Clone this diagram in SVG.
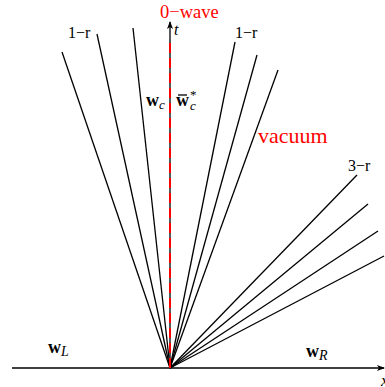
<svg xmlns="http://www.w3.org/2000/svg" width="385" height="387" viewBox="0 0 385 387">
<style>
.ax{stroke:#000;stroke-width:1.3;fill:none}
.fan{stroke:#000;stroke-width:1.3;fill:none}
.red{stroke:#ff0000;stroke-width:2;stroke-dasharray:10 5;fill:none}
.lbl{font-family:"Liberation Serif","DejaVu Serif",serif;fill:#000}
.rl{font-family:"Liberation Serif","DejaVu Serif",serif;fill:#ff0000}
</style>
<defs>
<marker id="ah" markerWidth="8" markerHeight="6" refX="7" refY="3" orient="auto" markerUnits="userSpaceOnUse">
<path d="M0,0 L8,3 L0,6 L2,3 Z" fill="#000"/>
</marker>
</defs>
<g id="axes">
<line class="ax" x1="12" y1="368" x2="384" y2="368" marker-end="url(#ah)"/>
<line class="ax" x1="170" y1="368" x2="170" y2="22" marker-end="url(#ah)"/>
<text class="lbl" x="174" y="35" font-size="16" font-style="italic">t</text>
<text class="lbl" x="381" y="386" font-size="17" font-style="italic">x</text>
</g>
<g id="connectors">
<line class="fan" x1="170" y1="368" x2="62" y2="52"/>
<line class="fan" x1="170" y1="368" x2="97" y2="34"/>
<line class="fan" x1="170" y1="368" x2="133" y2="28"/>
<line class="fan" x1="170" y1="368" x2="235" y2="42"/>
<line class="fan" x1="170" y1="368" x2="257" y2="55"/>
<line class="fan" x1="170" y1="368" x2="278" y2="70"/>
<line class="fan" x1="170" y1="368" x2="357" y2="175"/>
<line class="fan" x1="170" y1="368" x2="368" y2="204"/>
<line class="fan" x1="170" y1="368" x2="378" y2="231"/>
<line class="fan" x1="170" y1="368" x2="384" y2="256"/>
<line class="red" x1="170" y1="368" x2="170" y2="41"/>
</g>
<g id="labels">
<text class="rl" x="160" y="18" font-size="18.5">0−wave</text>
<text class="rl" x="258" y="143" font-size="22">vacuum</text>
<text class="lbl" x="68" y="38" font-size="16">1−r</text>
<text class="lbl" x="235" y="38" font-size="16">1−r</text>
<text class="lbl" x="348" y="171" font-size="16">3−r</text>
<text class="lbl" x="146" y="106" font-size="18" font-weight="bold">w<tspan font-weight="normal" font-style="italic" font-size="13" dy="3">c</tspan></text>
<text class="lbl" x="176" y="106" font-size="18" font-weight="bold">w</text>
<line x1="178" y1="95" x2="187" y2="95" stroke="#000" stroke-width="1.3"/>
<text class="lbl" x="190" y="99" font-size="13">*</text>
<text class="lbl" x="190" y="110" font-size="13" font-style="italic">c</text>
<text class="lbl" x="48" y="353" font-size="18" font-weight="bold">w<tspan font-weight="normal" font-style="italic" font-size="14" dy="3">L</tspan></text>
<text class="lbl" x="306" y="357" font-size="18" font-weight="bold">w<tspan font-weight="normal" font-style="italic" font-size="14" dy="3">R</tspan></text>
</g>
</svg>
